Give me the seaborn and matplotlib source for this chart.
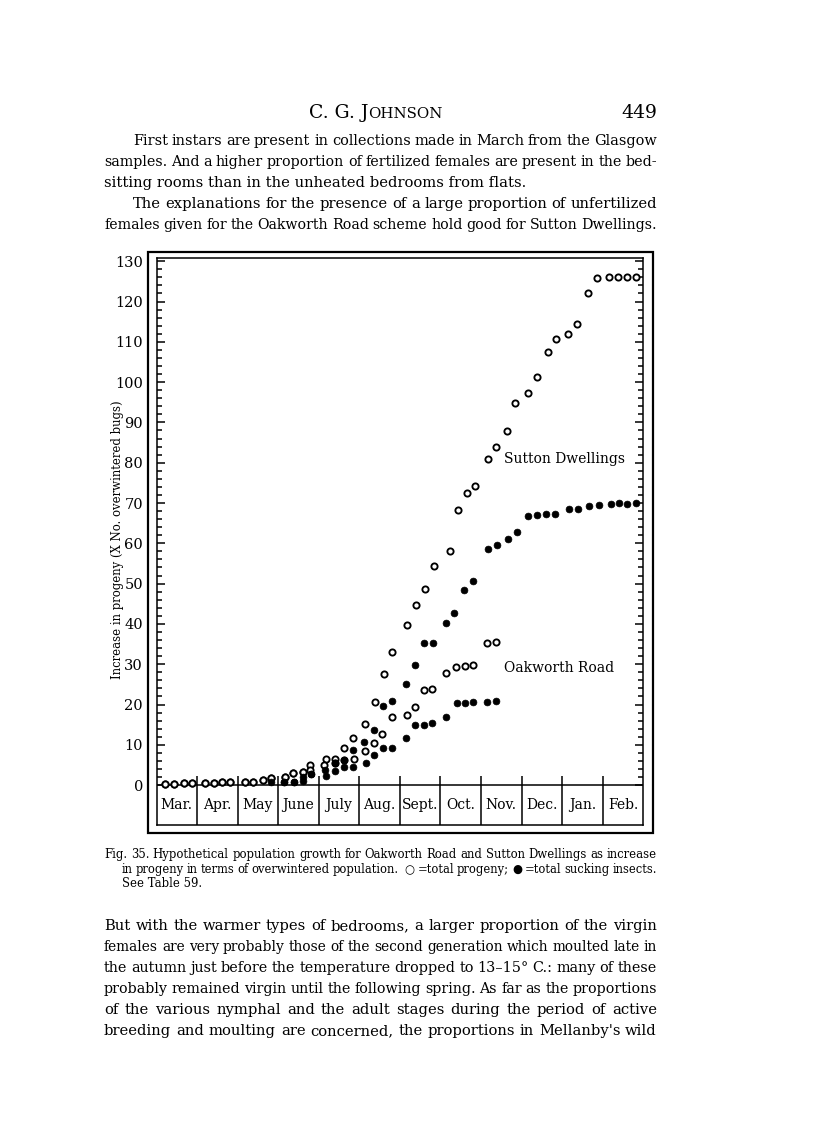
import numpy as np
import pandas as pd
import matplotlib
matplotlib.use("Agg")
import matplotlib.pyplot as plt
from matplotlib.patches import Rectangle
from matplotlib.ticker import FixedLocator
import seaborn as sns

# x = months after the start of March (0 = 1 Mar, 12 = end of Feb), y = increase in progeny
months = ["Mar.", "Apr.", "May", "June", "July", "Aug.", "Sept.", "Oct.", "Nov.", "Dec.", "Jan.", "Feb."]
y_ticks = list(range(0, 131, 10))

sutton_total_x = [0.20, 0.44, 0.67, 0.87, 1.19, 1.42, 1.61, 1.82, 2.19, 2.37, 2.63, 2.82,
                  3.16, 3.37, 3.60, 3.79, 4.17, 4.40, 4.61, 4.84, 5.15, 5.39, 5.60, 5.80,
                  6.18, 6.40, 6.63, 6.83, 7.24, 7.43, 7.66, 7.84, 8.16, 8.37, 8.63, 8.84,
                  9.15, 9.38, 9.65, 9.84, 10.14, 10.36, 10.64, 10.87, 11.16, 11.37, 11.59, 11.82]
sutton_total_y = [0.3, 0.3, 0.4, 0.6, 0.6, 0.6, 0.7, 0.8, 0.8, 0.8, 1.2, 1.8,
                  2.1, 3.1, 3.3, 5.0, 6.6, 6.6, 9.3, 11.8, 15.2, 20.7, 27.6, 33.1,
                  39.7, 44.7, 48.7, 54.3, 58.1, 68.3, 72.5, 74.3, 81.0, 83.8, 87.8, 94.7,
                  97.4, 101.2, 107.5, 110.7, 111.9, 114.5, 122.0, 125.9, 126.1, 126.1, 126.1, 126.1]

sutton_suck_x = [2.82, 3.15, 3.38, 3.60, 3.80, 4.16, 4.39, 4.61, 4.84, 5.11, 5.37, 5.58, 5.80,
                 6.16, 6.38, 6.59, 6.81, 7.13, 7.34, 7.58, 7.81, 8.16, 8.39, 8.66, 8.89,
                 9.16, 9.38, 9.60, 9.83, 10.18, 10.40, 10.67, 10.90, 11.20, 11.40, 11.60, 11.81]
sutton_suck_y = [0.8, 0.8, 0.8, 1.9, 2.7, 3.7, 5.4, 6.2, 8.7, 10.7, 13.6, 19.7, 20.8,
                 25.2, 29.7, 35.2, 35.2, 40.3, 42.6, 48.3, 50.6, 58.5, 59.7, 61.1, 62.9,
                 66.7, 67.0, 67.3, 67.3, 68.5, 68.6, 69.3, 69.5, 69.7, 69.9, 69.8, 69.9]

oak_total_x = [0.20, 0.44, 0.67, 0.87, 1.19, 1.42, 1.61, 1.82, 2.19, 2.37, 2.63, 2.82,
               3.16, 3.37, 3.60, 3.79, 4.14, 4.40, 4.61, 4.86, 5.15, 5.37, 5.57, 5.80,
               6.17, 6.36, 6.59, 6.80, 7.13, 7.38, 7.60, 7.80, 8.15, 8.37]
oak_total_y = [0.3, 0.3, 0.4, 0.6, 0.6, 0.6, 0.7, 0.8, 0.8, 0.8, 1.2, 1.8,
               2.1, 3.1, 3.3, 3.7, 5.0, 5.4, 6.2, 6.5, 8.5, 10.4, 12.7, 16.9,
               17.4, 19.4, 23.6, 23.8, 27.8, 29.3, 29.5, 29.8, 35.2, 35.4]

oak_suck_x = [3.15, 3.38, 3.60, 3.80, 4.17, 4.39, 4.61, 4.84, 5.17, 5.37, 5.58, 5.80,
              6.14, 6.37, 6.59, 6.78, 7.13, 7.40, 7.60, 7.80, 8.14, 8.38]
oak_suck_y = [0.8, 0.8, 1.1, 2.7, 2.2, 3.5, 4.4, 4.4, 5.5, 7.4, 9.1, 9.3,
              11.6, 14.8, 14.9, 15.4, 17.0, 20.3, 20.4, 20.7, 20.7, 20.8]

header_left = ("C. G. J", "OHNSON")
page_no = "449"
top_text = [
    ("First instars are present in collections made in March from the Glasgow", 145, 133, True),
    ("samples. And a higher proportion of fertilized females are present in the bed-", 166, 104, True),
    ("sitting rooms than in the unheated bedrooms from flats.", 187, 104, False),
    ("The explanations for the presence of a large proportion of unfertilized", 208, 133, True),
    ("females given for the Oakworth Road scheme hold good for Sutton Dwellings.", 229, 104, True),
]
caption = [
    ("Fig. 35. Hypothetical population growth for Oakworth Road and Sutton Dwellings as increase", 858, 104, True),
    ("in progeny in terms of overwintered population.  \u25cb =total progeny; \u25cf =total sucking insects.", 873, 122, True),
    ("See Table 59.", 887, 122, False),
]
bottom_text = [
    ("But with the warmer types of bedrooms, a larger proportion of the virgin", 930, 104, True),
    ("females are very probably those of the second generation which moulted late in", 951, 104, True),
    ("the autumn just before the temperature dropped to 13\u201315\u00b0 C.: many of these", 972, 104, True),
    ("probably remained virgin until the following spring. As far as the proportions", 993, 104, True),
    ("of the various nymphal and the adult stages during the period of active", 1014, 104, True),
    ("breeding and moulting are concerned, the proportions in Mellanby's wild", 1035, 104, True),
]

sns.set_style("white")
plt.rcParams['font.family'] = ['DejaVu Serif', 'DejaVu Sans']
plt.rcParams['text.color'] = 'black'
plt.rcParams['ytick.color'] = 'black'
plt.rcParams['ytick.labelcolor'] = 'black'

W, H = 816, 1146
fig = plt.figure(figsize=(W / 100, H / 100), dpi=100)
fig.patch.set_facecolor('white')
renderer = fig.canvas.get_renderer()


def fx(px):
    return px / W


def fy(py):
    return 1 - py / H


def put_line(text, y, x0, justify, size, x1=657, min_gap=3.6):
    if not justify:
        fig.text(fx(x0), fy(y), text, fontsize=size, va='baseline')
        return
    words = text.split(' ')
    arts = [fig.text(0, fy(y), w, fontsize=size, va='baseline') for w in words]
    widths = [a.get_window_extent(renderer).width for a in arts]
    gap = (x1 - x0 - sum(widths)) / (len(words) - 1)
    if gap < min_gap:
        # too tight: shrink this line a little so the words keep some air
        size = size * (x1 - x0 - min_gap * (len(words) - 1)) / sum(widths)
        for a in arts:
            a.set_fontsize(size)
        widths = [a.get_window_extent(renderer).width for a in arts]
        gap = (x1 - x0 - sum(widths)) / (len(words) - 1)
    x = x0
    for a, w in zip(arts, widths):
        a.set_x(fx(x))
        x += w + gap


# page header
t1 = fig.text(fx(309), fy(118), header_left[0], fontsize=13.5, va='baseline')
w1 = t1.get_window_extent(renderer).width
fig.text(fx(309 + w1), fy(118), header_left[1], fontsize=10.8, va='baseline')
fig.text(fx(657), fy(118), page_no, fontsize=13.5, va='baseline', ha='right')

for txt, y, x0, j in top_text:
    put_line(txt, y, x0, j, 10.6)
for txt, y, x0, j in caption:
    put_line(txt, y, x0, j, 8.4, min_gap=3.0)
for txt, y, x0, j in bottom_text:
    put_line(txt, y, x0, j, 10.6)

# chart
ax = fig.add_axes([fx(156.5), fy(825), fx(643.3) - fx(156.5), (825 - 258) / H])
ax.set_xlim(0, 12)
ax.set_ylim(-9.9, 130.8)

open_kw = dict(color='white', edgecolor='black', linewidth=1.35, s=20, marker='o', zorder=3, ax=ax)
fill_kw = dict(color='black', edgecolor='black', linewidth=0.5, s=24, marker='o', zorder=4, ax=ax)
sns.scatterplot(x=sutton_total_x, y=sutton_total_y, **open_kw)
sns.scatterplot(x=oak_total_x, y=oak_total_y, **open_kw)
sns.scatterplot(x=sutton_suck_x, y=sutton_suck_y, **fill_kw)
sns.scatterplot(x=oak_suck_x, y=oak_suck_y, **fill_kw)

ax.axhline(0, color='black', lw=1.1)
ax.vlines(np.arange(1, 12), -9.9, 2.2, color='black', lw=1.1)
for i, m in enumerate(months):
    ax.text(i + 0.5, -4.9, m, ha='center', va='center', fontsize=10)

ax.text(8.56, 80.9, "Sutton Dwellings", va='center', fontsize=10)
ax.text(8.56, 29.0, "Oakworth Road", va='center', fontsize=10)

ax.set_xticks([])
ax.yaxis.set_major_locator(FixedLocator(y_ticks))
ax.yaxis.set_minor_locator(FixedLocator(np.arange(0, 131, 2)))
ax.tick_params(axis='y', which='both', direction='in', left=True, right=True, width=1.1, color='black')
ax.tick_params(axis='y', which='major', length=6, pad=9.7, labelsize=10.5)
ax.tick_params(axis='y', which='minor', length=3.5)
for s in ax.spines.values():
    s.set_color('black')
    s.set_linewidth(1.1)
ax.set_xlabel('')
ax.set_ylabel('')

fig.add_artist(Rectangle((fx(148), fy(833)), (653 - 148) / W, (833 - 252) / H,
                         transform=fig.transFigure, fill=False, lw=1.6, color='black'))
fig.text(fx(118), fy(540), "Increase in progeny (X No. overwintered bugs)",
         rotation=90, ha='center', va='center', fontsize=8.4)

fig.savefig('out.png', dpi=100)
